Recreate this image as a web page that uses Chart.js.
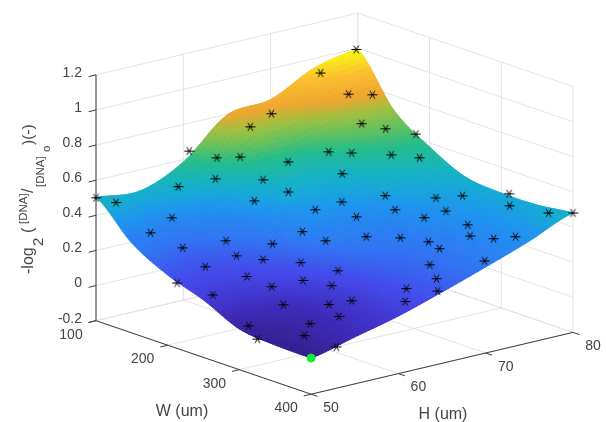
<!DOCTYPE html>
<html>
<head>
<meta charset="utf-8">
<script src="https://cdn.jsdelivr.net/npm/chart.js@4"></script>
<style>
html, body { margin: 0; padding: 0; background: #fff; }
canvas { display: block; filter: blur(0.35px); }
</style>
</head>
<body>
<canvas id="chart" width="606" height="422"></canvas>
<script>
// surface values
const wGrid = [100, 150, 200, 250, 300, 350, 400];
const hGrid = [50, 55, 60, 65, 70, 75, 80];
const zGrid = [ // one row per W, one column per H
    [0.502, 0.480, 0.586, 0.795, 0.825, 0.946, 0.995],
    [0.312, 0.290, 0.374, 0.548, 0.573, 0.674, 0.718],
    [0.200, 0.187, 0.261, 0.408, 0.437, 0.529, 0.577],
    [0.127, 0.124, 0.185, 0.306, 0.341, 0.424, 0.476],
    [0.032, 0.056, 0.122, 0.233, 0.289, 0.380, 0.454],
    [0.010, 0.051, 0.116, 0.210, 0.280, 0.369, 0.456],
    [0.006, 0.067, 0.128, 0.206, 0.290, 0.379, 0.480]
];

// measured samples (black stars)
const sampleW = [100, 117, 107, 131, 144, 118, 117, 178, 152, 182, 210, 199, 138, 167,
    100, 104, 143, 158, 182, 202, 226, 192, 207, 233, 253, 223, 272, 305, 319, 345, 358, 389, 400,
    253, 245, 293, 325, 277, 319, 353, 170, 205, 224, 255, 246, 266, 260, 292, 239, 274, 312,
    213, 300, 263, 326, 313, 371, 325, 284, 304, 326, 347, 361, 366, 383, 394, 401, 372, 323,
    391, 335, 383, 400, 363, 396, 353, 372, 362, 400];
const sampleH = [50, 50.9, 60.1, 61.3, 62.9, 66.2, 68.7, 65.6, 59.4, 62.4, 63, 60, 56.3, 53.2,
    79.8, 75.4, 75.4, 76.9, 73.7, 74.8, 76.3, 69.1, 70.5, 72.9, 74.5, 68.1, 69, 72.1, 74, 77.2, 76.2, 78.1, 80,
    65.6, 63.2, 68.4, 71.6, 65.3, 69.6, 71.8, 50.5, 51.3, 54.7, 57.5, 54.1, 55.5, 60.5, 57.7, 51.1, 53, 56.3,
    50, 53.7, 50, 52.9, 50, 51.6, 50, 61.2, 64.2, 66.3, 67.8, 67.9, 71, 72.3, 73.9, 69.8, 65.9, 59.4,
    65.1, 57.7, 62.3, 64.5, 57.7, 61.1, 55.9, 55.5, 53, 52.9];
const sampleZ = [0.5, 0.486, 0.657, 0.638, 0.642, 0.739, 0.783, 0.63, 0.57, 0.571, 0.534, 0.503, 0.542, 0.442,
    0.995, 0.918, 0.852, 0.852, 0.758, 0.744, 0.73, 0.666, 0.664, 0.661, 0.654, 0.596, 0.529, 0.526, 0.535, 0.545, 0.507, 0.487, 0.48,
    0.507, 0.479, 0.485, 0.485, 0.459, 0.462, 0.443, 0.392, 0.346, 0.373, 0.366, 0.325, 0.315, 0.407, 0.308, 0.288, 0.259, 0.251,
    0.172, 0.229, 0.174, 0.172, 0.068, 0.074, 0.009, 0.38, 0.396, 0.396, 0.385, 0.364, 0.407, 0.4, 0.408, 0.328, 0.311, 0.285,
    0.268, 0.237, 0.233, 0.217, 0.19, 0.192, 0.176, 0.139, 0.113, 0.035];

// the green marker in the near corner
const bestW = [400];
const bestH = [50];
const bestZ = [0.006];

const wTicks = [100, 200, 300, 400];
const hTicks = [50, 60, 70, 80];
const zTicks = [-0.2, 0, 0.2, 0.4, 0.6, 0.8, 1, 1.2];

// colours picked off the surface, by height
const cmapStops = [
    [0.00, 50, 30, 140], [0.07, 62, 42, 185], [0.17, 68, 72, 235], [0.27, 48, 115, 242],
    [0.40, 30, 150, 238], [0.45, 22, 168, 215], [0.50, 20, 178, 195], [0.59, 35, 188, 140],
    [0.655, 96, 192, 96], [0.73, 160, 192, 64], [0.80, 240, 165, 48], [0.90, 250, 190, 45],
    [1.00, 248, 248, 20]
];

// fixed view of the 3-d box
function project(w, h, z) {
    const u = w - 100, v = h - 50;
    return {
        x: 96 + 0.717 * u + 8.73 * v,
        y: 320.7 + 0.245 * u - 2.06 * v - 175.6 * (z + 0.2)
    };
}

function segments(list) {
    const pts = [];
    list.forEach(s => {
        pts.push(project(...s[0]), project(...s[1]), { x: NaN, y: NaN });
    });
    return pts;
}

const wMin = 100, wMax = 400, hMin = 50, hMax = 80, zMin = -0.2, zMax = 1.2;
const gridSegs = [];
zTicks.forEach(z => {
    gridSegs.push([[wMin, hMin, z], [wMin, hMax, z]]);
    gridSegs.push([[wMin, hMax, z], [wMax, hMax, z]]);
});
hTicks.forEach(h => {
    gridSegs.push([[wMin, h, zMin], [wMin, h, zMax]]);
    gridSegs.push([[wMin, h, zMin], [wMax, h, zMin]]);
});
wTicks.forEach(w => {
    gridSegs.push([[w, hMax, zMin], [w, hMax, zMax]]);
    gridSegs.push([[w, hMin, zMin], [w, hMax, zMin]]);
});

const axisSegs = [
    [[wMin, hMin, zMin], [wMin, hMin, zMax]],
    [[wMin, hMin, zMin], [wMax, hMin, zMin]],
    [[wMax, hMin, zMin], [wMax, hMax, zMin]]
];
zTicks.forEach(z => axisSegs.push([[wMin, hMin, z], [wMin, hMin - 0.85, z]]));
wTicks.forEach(w => axisSegs.push([[w, hMin, zMin], [w, hMin - 0.85, zMin]]));
hTicks.forEach(h => axisSegs.push([[wMax, h, zMin], [wMax + 9, h, zMin]]));

function colorFor(z) {
    const t = Math.min(1, Math.max(0, z / 0.995));
    let i = 0;
    while (i < cmapStops.length - 2 && t > cmapStops[i + 1][0]) i++;
    const a = cmapStops[i], b = cmapStops[i + 1];
    const f = (t - a[0]) / (b[0] - a[0]);
    const c = [1, 2, 3].map(k => Math.round(a[k] + (b[k] - a[k]) * f));
    return `rgb(${c[0]},${c[1]},${c[2]})`;
}

function smooth(p0, p1, p2, p3, t) {
    return p1 + 0.5 * t * (p2 - p0 + t * (2 * p0 - 5 * p1 + 4 * p2 - p3 + t * (3 * (p1 - p2) + p3 - p0)));
}

function zAt(fw, fh) {
    const i = Math.min(wGrid.length - 2, Math.floor(fw));
    const j = Math.min(hGrid.length - 2, Math.floor(fh));
    const rows = [];
    for (let a = -1; a <= 2; a++) {
        const r = zGrid[Math.max(0, Math.min(wGrid.length - 1, i + a))];
        const col = k => r[Math.max(0, Math.min(hGrid.length - 1, j + k))];
        rows.push(smooth(col(-1), col(0), col(1), col(2), fh - j));
    }
    return smooth(rows[0], rows[1], rows[2], rows[3], fw - i);
}

// shaded surface, goes in under the stars
const surfacePlugin = {
    id: 'surface',
    beforeDatasetDraw(chart, args) {
        if (chart.data.datasets[args.index].label !== 'surface') return;
        const { ctx, scales } = chart;
        const steps = 12;
        const nw = (wGrid.length - 1) * steps, nh = (hGrid.length - 1) * steps;
        const node = (a, b) => {
            const fw = a / steps, fh = b / steps;
            const z = zAt(fw, fh);
            const p = project(100 + fw * 50, 50 + fh * 5, z);
            return { x: scales.x.getPixelForValue(p.x), y: scales.y.getPixelForValue(p.y), z };
        };
        ctx.save();
        ctx.lineWidth = 1;
        for (let a = 0; a < nw; a++) {
            for (let b = nh - 1; b >= 0; b--) {
                const q = [node(a, b), node(a + 1, b), node(a + 1, b + 1), node(a, b + 1)];
                const col = colorFor((q[0].z + q[1].z + q[2].z + q[3].z) / 4);
                ctx.fillStyle = col;
                ctx.strokeStyle = col;
                ctx.beginPath();
                ctx.moveTo(q[0].x, q[0].y);
                q.slice(1).forEach(p => ctx.lineTo(p.x, p.y));
                ctx.closePath();
                ctx.fill();
                ctx.stroke();
            }
        }
        ctx.restore();
    }
};

function rotatedText(ctx, str, x, y, size) {
    ctx.save();
    ctx.translate(x, y);
    ctx.rotate(-Math.PI / 2);
    ctx.font = size + 'px "Liberation Sans"';
    ctx.textAlign = 'left';
    ctx.textBaseline = 'alphabetic';
    ctx.fillText(str, 0, 0);
    ctx.restore();
}

const labelsPlugin = {
    id: 'labels3d',
    afterDraw(chart) {
        const { ctx, scales } = chart;
        const px = p => ({ x: scales.x.getPixelForValue(p.x), y: scales.y.getPixelForValue(p.y) });
        ctx.save();
        ctx.fillStyle = '#444';
        ctx.font = '14px "Liberation Sans"';
        ctx.textBaseline = 'middle';
        ctx.textAlign = 'right';
        zTicks.forEach(z => {
            const p = px(project(wMin, hMin, z));
            ctx.fillText(String(z), 82, p.y - 2);
        });
        ctx.textAlign = 'center';
        wTicks.forEach(w => {
            const p = px(project(w, hMin, zMin));
            ctx.fillText(String(w), p.x - 25, p.y + 14);
        });
        hTicks.forEach(h => {
            const p = px(project(wMax, h, zMin));
            ctx.fillText(String(h), p.x + 20, p.y + 14);
        });
        ctx.font = '16px "Liberation Sans"';
        ctx.fillText('W (um)', 182, 412);
        ctx.fillText('H (um)', 443, 415);

        rotatedText(ctx, '-log', 33, 274, 16);
        rotatedText(ctx, '2', 43, 246, 15);
        rotatedText(ctx, '(', 33, 233, 16);
        rotatedText(ctx, '[DNA]', 27, 224, 11.5);
        rotatedText(ctx, '/', 33, 193, 16);
        rotatedText(ctx, '[DNA]', 44, 187, 11.5);
        rotatedText(ctx, 'o', 50, 152, 11.5);
        rotatedText(ctx, ')(-)', 33, 145, 15.5);
        ctx.restore();
    }
};

function starSprite() {
    const c = document.createElement('canvas');
    c.width = 11;
    c.height = 11;
    const g = c.getContext('2d');
    g.strokeStyle = '#000';
    g.lineWidth = 1;
    [0, 60, 120].forEach(deg => {
        const r = deg * Math.PI / 180;
        g.beginPath();
        g.moveTo(5.5 - 5 * Math.cos(r), 5.5 - 4.5 * Math.sin(r));
        g.lineTo(5.5 + 5 * Math.cos(r), 5.5 + 4.5 * Math.sin(r));
        g.stroke();
    });
    return c;
}

new Chart(document.getElementById('chart'), {
    type: 'scatter',
    data: {
        datasets: [
            {
                label: 'grid',
                data: segments(gridSegs),
                showLine: true,
                spanGaps: false,
                pointRadius: 0,
                borderColor: '#e3e3e3',
                borderWidth: 1,
                order: 5
            },
            {
                label: 'surface',
                data: wGrid.flatMap((w, i) => hGrid.map((h, j) => project(w, h, zGrid[i][j]))),
                pointRadius: 0,
                order: 4
            },
            {
                label: 'axes',
                data: segments(axisSegs),
                showLine: true,
                spanGaps: false,
                pointRadius: 0,
                borderColor: '#3c3c3c',
                borderWidth: 1,
                order: 3
            },
            {
                label: 'samples',
                data: sampleW.map((w, i) => project(w, sampleH[i], sampleZ[i])),
                pointStyle: starSprite(),
                order: 2
            },
            {
                label: 'best',
                data: bestW.map((w, i) => project(w, bestH[i], bestZ[i])),
                pointStyle: 'circle',
                pointRadius: 4,
                backgroundColor: '#10f030',
                borderColor: '#10f030',
                order: 1
            }
        ]
    },
    options: {
        responsive: false,
        animation: false,
        layout: { padding: 0, autoPadding: false },
        plugins: { legend: { display: false }, tooltip: { enabled: false } },
        scales: {
            x: { type: 'linear', min: 0, max: 606, display: false },
            y: { type: 'linear', min: 0, max: 422, reverse: true, display: false }
        }
    },
    plugins: [surfacePlugin, labelsPlugin]
});
</script>
</body>
</html>
